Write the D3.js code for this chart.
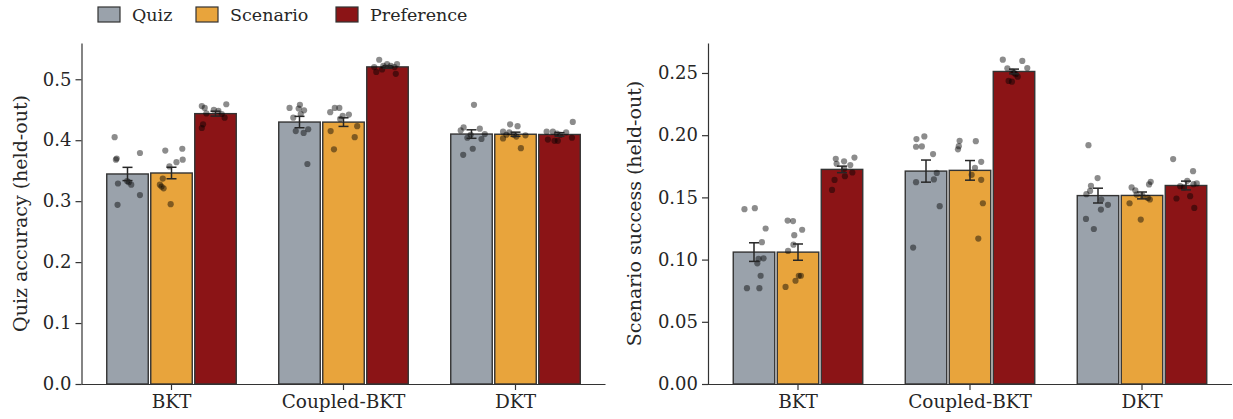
<!DOCTYPE html>
<html>
<head>
    <meta charset="utf-8">
    <title>Held-out results</title>
    <script src="https://d3js.org/d3.v7.min.js"></script>
    <style>
        body { margin: 0; background: #fff; }
        text { font-family: "DejaVu Serif", serif; fill: #262626; }
        .axis path, .axis line { stroke: #333; stroke-width: 1.2; }
        .axis text { font-family: "DejaVu Serif", serif; fill: #262626; }
    </style>
</head>
<body>
    <div id="chart"></div>
    <script>
        const categories = ["BKT", "Coupled-BKT", "DKT"];
        const conditions = ["Quiz", "Scenario", "Preference"];
        const condColors = ["#9aa2ab", "#e8a43c", "#8b1416"];

        // quiz accuracy per seed: [category][condition][seed]
        const quizAccuracy = [
            [[0.405, 0.370, 0.368, 0.379, 0.329, 0.331, 0.327, 0.310, 0.294, 0.333],
             [0.383, 0.386, 0.368, 0.364, 0.357, 0.337, 0.327, 0.324, 0.321, 0.295],
             [0.456, 0.453, 0.459, 0.444, 0.450, 0.448, 0.443, 0.437, 0.426, 0.420]],
            [[0.453, 0.458, 0.449, 0.443, 0.437, 0.415, 0.412, 0.418, 0.361, 0.452],
             [0.446, 0.453, 0.453, 0.442, 0.435, 0.440, 0.415, 0.423, 0.405, 0.385],
             [0.532, 0.520, 0.512, 0.516, 0.525, 0.522, 0.520, 0.525, 0.509, 0.522]],
            [[0.458, 0.421, 0.416, 0.419, 0.410, 0.404, 0.402, 0.386, 0.376, 0.409],
             [0.426, 0.423, 0.414, 0.413, 0.409, 0.409, 0.408, 0.403, 0.387, 0.406],
             [0.430, 0.414, 0.414, 0.411, 0.413, 0.409, 0.401, 0.399, 0.399, 0.404]]
        ];
        // horizontal strip jitter, as a fraction of bar width
        const quizJitter = [
            [[-0.31, -0.26, -0.28, 0.30, -0.23, 0.03, 0.09, 0.30, -0.24, -0.01],
             [-0.15, 0.26, 0.27, 0.12, -0.05, -0.21, -0.28, -0.24, -0.19, -0.02],
             [-0.33, -0.26, 0.26, -0.22, -0.04, 0.07, 0.15, 0.22, -0.30, -0.33]],
            [[-0.24, 0.01, 0.11, 0.03, -0.15, -0.09, 0.10, 0.21, 0.19, -0.02],
             [-0.32, -0.21, -0.10, 0.13, -0.08, -0.02, -0.31, 0.33, 0.27, -0.23],
             [-0.20, -0.32, -0.27, -0.13, -0.01, 0.08, 0.17, 0.23, 0.20, -0.10]],
            [[0.06, -0.19, -0.26, 0.20, 0.32, -0.10, 0.24, 0.03, -0.20, -0.02],
             [-0.13, 0.05, -0.30, -0.15, -0.04, -0.22, 0.24, -0.30, 0.13, 0.02],
             [0.32, -0.31, -0.16, -0.06, 0.16, 0.02, -0.28, -0.12, -0.04, 0.30]]
        ];

        const scenarioSuccess = [
            [[0.1405, 0.1413, 0.125, 0.114, 0.101, 0.1005, 0.097, 0.087, 0.077, 0.077],
             [0.1314, 0.131, 0.124, 0.1196, 0.112, 0.107, 0.087, 0.087, 0.083, 0.078],
             [0.182, 0.181, 0.179, 0.177, 0.176, 0.173, 0.170, 0.167, 0.164, 0.156]],
            [[0.1969, 0.199, 0.1907, 0.191, 0.1848, 0.1697, 0.1644, 0.1622, 0.1429, 0.1097],
             [0.1955, 0.1952, 0.1912, 0.1886, 0.1786, 0.1738, 0.1681, 0.1641, 0.1453, 0.1169],
             [0.2607, 0.2597, 0.2538, 0.254, 0.2511, 0.249, 0.247, 0.2436, 0.243, 0.2502]],
            [[0.192, 0.1655, 0.1593, 0.1552, 0.1526, 0.1483, 0.144, 0.1402, 0.1327, 0.1246],
             [0.1625, 0.1604, 0.158, 0.1556, 0.1523, 0.1515, 0.1483, 0.1496, 0.1453, 0.1322],
             [0.1808, 0.1711, 0.1633, 0.1612, 0.1606, 0.159, 0.158, 0.151, 0.1491, 0.1415]]
        ];
        const scenarioJitter = [
            [[-0.23, 0.02, 0.28, 0.19, 0.23, 0.11, 0.08, 0.16, -0.17, 0.13],
             [-0.25, -0.12, 0.10, -0.09, -0.11, -0.24, 0.07, 0.02, -0.06, -0.30],
             [0.30, -0.15, 0.05, -0.13, 0.20, 0.05, 0.25, 0.07, -0.18, -0.24]],
            [[-0.23, -0.04, -0.24, -0.10, 0.17, 0.26, 0.19, -0.24, 0.33, -0.31],
             [-0.25, 0.14, -0.27, -0.29, 0.27, 0.12, 0.04, 0.27, 0.31, 0.20],
             [-0.27, 0.20, -0.16, 0.32, -0.04, 0.04, 0.09, -0.13, -0.05, 0.00]],
            [[-0.23, -0.01, -0.17, -0.19, -0.28, 0.08, 0.24, 0.07, -0.29, -0.10],
             [0.21, 0.17, -0.25, -0.16, -0.13, 0.01, 0.19, 0.14, -0.30, -0.03],
             [-0.31, 0.17, 0.03, 0.26, 0.18, -0.14, -0.05, 0.10, -0.23, 0.20]]
        ];

        const quizTicks = [0, 0.1, 0.2, 0.3, 0.4, 0.5];
        const scenarioTicks = [0, 0.05, 0.10, 0.15, 0.20, 0.25];

        const width = 1233, height = 419;
        const svg = d3.select("#chart").append("svg")
            .attr("width", width)
            .attr("height", height);

        function drawPanel(p) {
            const top = 43, bottom = 384;
            const g = svg.append("g");

            const x = d3.scaleBand()
                .domain(categories)
                .range([p.x0 + 4, p.x0 + 520]);
            const y = d3.scaleLinear()
                .domain([0, p.yMax])
                .range([bottom, top]);

            const slot = 44, barW = 41.5;
            const cx = (ci, k) => x(categories[ci]) + x.bandwidth() / 2 + (k - 1) * slot;

            const rows = [];
            p.values.forEach((byCond, ci) => {
                byCond.forEach((vals, k) => {
                    const mean = d3.mean(vals);
                    const se = d3.deviation(vals) / Math.sqrt(vals.length);
                    rows.push({ ci, k, vals, jit: p.jitter[ci][k], mean, se });
                });
            });

            // bars
            g.selectAll(".bar")
                .data(rows)
                .join("rect")
                .attr("x", d => cx(d.ci, d.k) - barW / 2)
                .attr("y", d => y(d.mean))
                .attr("width", barW)
                .attr("height", d => y(0) - y(d.mean))
                .attr("fill", d => condColors[d.k])
                .attr("stroke", "#333")
                .attr("stroke-width", 1.4);

            // seed points
            rows.forEach(d => {
                g.selectAll(null)
                    .data(d.vals)
                    .join("circle")
                    .attr("cx", (v, i) => cx(d.ci, d.k) + d.jit[i] * barW)
                    .attr("cy", v => y(v))
                    .attr("r", 3.1)
                    .attr("fill", "#000")
                    .attr("fill-opacity", 0.45);
            });

            // error bars (s.e.m.)
            const eb = g.selectAll(".eb")
                .data(rows)
                .join("g")
                .attr("stroke", "#262626")
                .attr("stroke-width", 1.5);
            eb.append("line")
                .attr("x1", d => cx(d.ci, d.k)).attr("x2", d => cx(d.ci, d.k))
                .attr("y1", d => y(d.mean - d.se)).attr("y2", d => y(d.mean + d.se));
            [-1, 1].forEach(s => {
                eb.append("line")
                    .attr("x1", d => cx(d.ci, d.k) - 5).attr("x2", d => cx(d.ci, d.k) + 5)
                    .attr("y1", d => y(d.mean + s * d.se)).attr("y2", d => y(d.mean + s * d.se));
            });

            // axes
            const yAxis = g.append("g")
                .attr("class", "axis")
                .attr("transform", `translate(${p.x0},0)`)
                .call(d3.axisLeft(y).tickValues(p.ticks).tickFormat(d3.format(p.fmt))
                    .tickSize(6).tickPadding(4).tickSizeOuter(0));
            yAxis.selectAll("text").style("font-size", "18px");

            const xAxis = g.append("g")
                .attr("class", "axis")
                .attr("transform", `translate(0,${bottom})`)
                .call(d3.axisBottom(x).tickSize(6).tickPadding(5).tickSizeOuter(0));
            xAxis.select(".domain").attr("d", `M${p.x0},0.5H${p.x0 + 524}`);
            xAxis.selectAll("text").style("font-size", "18.5px");

            g.append("text")
                .attr("transform", `translate(${p.titleX},${(top + bottom) / 2}) rotate(-90)`)
                .attr("text-anchor", "middle")
                .style("font-size", "19px")
                .text(p.title);
        }

        drawPanel({
            x0: 81.5, yMax: 0.5595, values: quizAccuracy, jitter: quizJitter,
            ticks: quizTicks, fmt: ".1f", title: "Quiz accuracy (held-out)", titleX: 27
        });
        drawPanel({
            x0: 708, yMax: 0.2741, values: scenarioSuccess, jitter: scenarioJitter,
            ticks: scenarioTicks, fmt: ".2f", title: "Scenario success (held-out)", titleX: 641
        });

        // legend
        const legendX = [98, 196, 336];
        const legend = svg.append("g");
        conditions.forEach((c, i) => {
            legend.append("rect")
                .attr("x", legendX[i]).attr("y", 7)
                .attr("width", 22).attr("height", 15)
                .attr("fill", condColors[i])
                .attr("stroke", "#333")
                .attr("stroke-width", 1.2);
            legend.append("text")
                .attr("x", legendX[i] + 34).attr("y", 21)
                .style("font-size", "17.5px")
                .text(c);
        });
    </script>
</body>
</html>
